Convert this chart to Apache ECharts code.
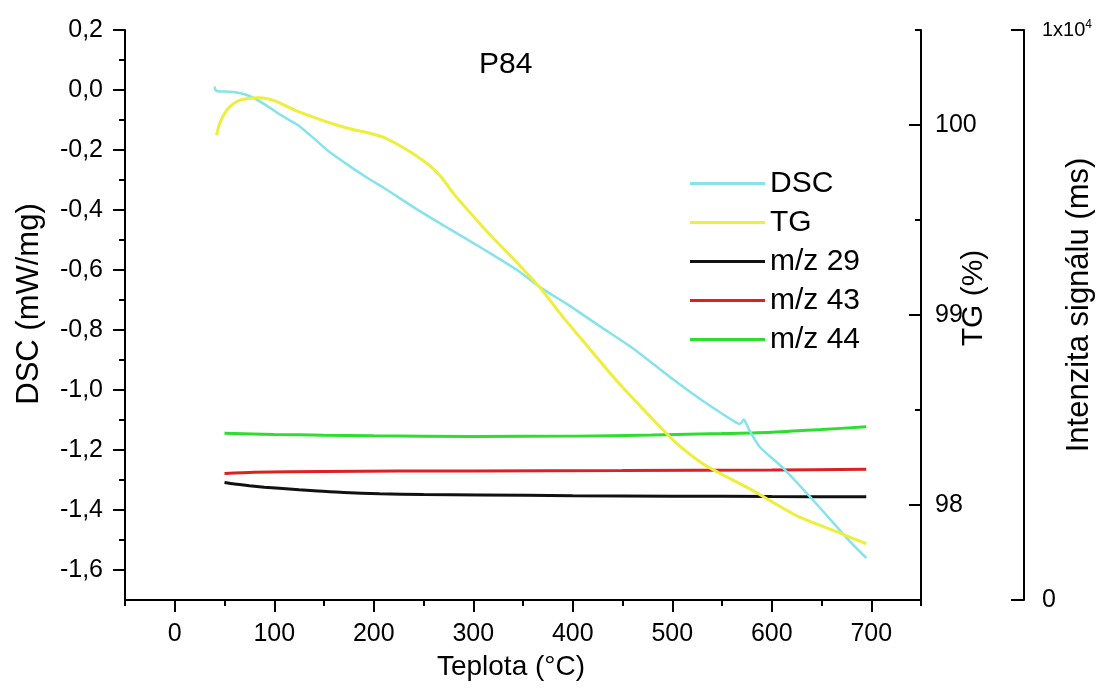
<!DOCTYPE html>
<html>
<head>
<meta charset="utf-8">
<script src="https://cdn.jsdelivr.net/npm/echarts@6/dist/echarts.min.js"></script>
<style>
html,body{margin:0;padding:0;background:#fff;}
#chart{width:1108px;height:696px;}
</style>
</head>
<body>
<div id="chart"></div>
<script>
// ---- data ----
const xMajor = [0, 100, 200, 300, 400, 500, 600, 700];
const xMinor = [-50, 50, 150, 250, 350, 450, 550, 650, 750];
const dscMajor = [0.2, 0, -0.2, -0.4, -0.6, -0.8, -1, -1.2, -1.4, -1.6];
const dscMinor = [0.1, -0.1, -0.3, -0.5, -0.7, -0.9, -1.1, -1.3, -1.5];
const tgMajor = [98, 99, 100];
const tgMinor = [97.5, 98.5, 99.5, 100.5];
const intTicks = [0, 10000];

// DSC (mW/mg) vs temperature
const dscT = [40, 41, 43, 55, 65, 75, 85, 95, 105, 115, 125, 140, 155, 175, 195, 210, 243, 276, 310, 344, 367, 394, 427, 460, 497, 528, 560, 568, 572, 574, 578, 588, 611, 645, 678, 695];
const dscV = [0.012, 0.0, -0.004, -0.006, -0.01, -0.02, -0.037, -0.058, -0.08, -0.1, -0.12, -0.162, -0.205, -0.252, -0.296, -0.326, -0.397, -0.463, -0.53, -0.6, -0.657, -0.713, -0.787, -0.86, -0.955, -1.03, -1.1, -1.113, -1.098, -1.11, -1.137, -1.19, -1.259, -1.38, -1.503, -1.56];

// TG (%) vs temperature
const tgT = [42, 45, 50, 55, 63, 72, 85, 100, 120, 140, 160, 180, 195, 210, 225, 240, 256, 268, 280, 300, 320, 345, 368, 390, 410, 444, 477, 505, 530, 545, 578, 600, 628, 662, 695];
const tgV = [99.945, 100.006, 100.06, 100.094, 100.125, 100.138, 100.143, 100.128, 100.08, 100.04, 100.004, 99.975, 99.958, 99.935, 99.895, 99.848, 99.787, 99.725, 99.64, 99.52, 99.405, 99.27, 99.138, 98.99, 98.866, 98.655, 98.47, 98.322, 98.22, 98.175, 98.085, 98.018, 97.936, 97.866, 97.796];

// MS intensities
const mz29T = [50, 60, 75, 90, 105, 125, 140, 170, 206, 250, 306, 400, 500, 600, 695];
const mz29V = [2060, 2035, 2005, 1980, 1960, 1935, 1918, 1885, 1862, 1850, 1842, 1830, 1822, 1815, 1812];
const mz43T = [50, 80, 150, 300, 450, 600, 695];
const mz43V = [2220, 2240, 2255, 2265, 2270, 2282, 2295];
const mz44T = [50, 100, 150, 200, 300, 400, 480, 550, 600, 650, 695];
const mz44V = [2925, 2905, 2890, 2880, 2870, 2875, 2895, 2920, 2945, 2990, 3040];

const zip = (a, b) => a.map((v, i) => [v, b[i]]);
const FF = '"Liberation Sans", Arial, sans-serif';
const comma = v => v.toFixed(1).replace('.', ',');

const chart = echarts.init(document.getElementById('chart'), null, {renderer: 'canvas'});

const axLine = {show: true, onZero: false, lineStyle: {color: '#000', width: 2}};
const noLine = {show: false, onZero: false};
const tickStyle = {color: '#000', width: 2};

const option = {
  animation: false,
  backgroundColor: '#fff',
  title: {
    text: 'P84', left: 474, top: 45,
    textStyle: {fontFamily: FF, fontSize: 30, fontWeight: 'normal', color: '#000'}
  },
  legend: {
    orient: 'vertical', left: 685, top: 163,
    icon: 'rect', itemWidth: 75, itemHeight: 3, itemGap: 8,
    textStyle: {fontFamily: FF, fontSize: 30, lineHeight: 31, color: '#000'},
    data: ['DSC', 'TG', 'm/z 29', 'm/z 43', 'm/z 44']
  },
  grid: {left: 125, right: 187, top: 30, bottom: 96, containLabel: false, outerBoundsMode: 'none'},
  xAxis: [
    {
      type: 'value', min: -50, max: 750, position: 'bottom',
      axisLine: axLine,
      axisTick: {show: true, length: 12, lineStyle: tickStyle, customValues: xMajor},
      axisLabel: {customValues: xMajor, fontFamily: FF, fontSize: 25, color: '#000', margin: 22},
      splitLine: {show: false},
      name: 'Teplota (°C)', nameLocation: 'middle', nameGap: 53, nameMoveOverlap: false,
      nameTextStyle: {fontFamily: FF, fontSize: 28, color: '#000', padding: [0, 24, 0, 0]}
    },
    {
      type: 'value', min: -50, max: 750, position: 'bottom',
      axisLine: noLine,
      axisTick: {show: true, length: 6, lineStyle: tickStyle, customValues: xMinor},
      axisLabel: {show: false}, splitLine: {show: false}
    }
  ],
  yAxis: [
    {
      type: 'value', min: -1.7, max: 0.2, position: 'left',
      axisLine: axLine,
      axisTick: {show: true, length: 12, lineStyle: tickStyle, customValues: dscMajor},
      axisLabel: {customValues: dscMajor, formatter: comma, fontFamily: FF, fontSize: 25, color: '#000', margin: 22},
      splitLine: {show: false},
      name: 'DSC (mW/mg)', nameLocation: 'middle', nameRotate: 90, nameGap: 80, nameMoveOverlap: false,
      nameTextStyle: {fontFamily: FF, fontSize: 31, color: '#000', padding: [0, 0, 0, 22]}
    },
    {
      type: 'value', min: -1.7, max: 0.2, position: 'left',
      axisLine: noLine,
      axisTick: {show: true, length: 6, lineStyle: tickStyle, customValues: dscMinor},
      axisLabel: {show: false}, splitLine: {show: false}
    },
    {
      type: 'value', min: 97.5, max: 100.5, position: 'right',
      axisLine: axLine,
      axisTick: {show: true, inside: true, length: 12, lineStyle: tickStyle, customValues: tgMajor},
      axisLabel: {customValues: tgMajor, fontFamily: FF, fontSize: 25, color: '#000', margin: 14},
      splitLine: {show: false},
      name: 'TG (%)', nameLocation: 'middle', nameRotate: 90, nameGap: 38, nameMoveOverlap: false,
      nameTextStyle: {fontFamily: FF, fontSize: 30, color: '#000', padding: [0, 0, 0, 34]}
    },
    {
      type: 'value', min: 97.5, max: 100.5, position: 'right',
      axisLine: noLine,
      axisTick: {show: true, inside: true, length: 6, lineStyle: tickStyle, customValues: tgMinor},
      axisLabel: {show: false}, splitLine: {show: false}
    },
    {
      type: 'value', min: 0, max: 10000, position: 'right', offset: 103,
      axisLine: axLine,
      axisTick: {show: true, inside: true, length: 13, lineStyle: tickStyle, customValues: intTicks},
      axisLabel: {
        customValues: intTicks, margin: 18, color: '#000',
        formatter: v => v === 0 ? '{n|0}' : '{s|1x10}{sup|4}',
        rich: {
          n: {fontFamily: FF, fontSize: 25, color: '#000'},
          s: {fontFamily: FF, fontSize: 20, color: '#000'},
          sup: {fontFamily: FF, fontSize: 12, color: '#000', verticalAlign: 'top', padding: [0, 0, 10, 0]}
        }
      },
      splitLine: {show: false},
      name: 'Intenzita signálu (ms)', nameLocation: 'middle', nameRotate: 90, nameGap: 40, nameMoveOverlap: false,
      nameTextStyle: {fontFamily: FF, fontSize: 31, color: '#000', padding: [0, 0, 0, 20]}
    }
  ],
  series: [
    {name: 'm/z 29', type: 'line', xAxisIndex: 0, yAxisIndex: 4, data: zip(mz29T, mz29V), showSymbol: false, smooth: 0.3,
     lineStyle: {color: '#111111', width: 3}, itemStyle: {color: '#111111'}},
    {name: 'm/z 43', type: 'line', xAxisIndex: 0, yAxisIndex: 4, data: zip(mz43T, mz43V), showSymbol: false, smooth: 0.3,
     lineStyle: {color: '#DD2020', width: 3}, itemStyle: {color: '#DD2020'}},
    {name: 'm/z 44', type: 'line', xAxisIndex: 0, yAxisIndex: 4, data: zip(mz44T, mz44V), showSymbol: false, smooth: 0.3,
     lineStyle: {color: '#2EDD2E', width: 3}, itemStyle: {color: '#2EDD2E'}},
    {name: 'DSC', type: 'line', xAxisIndex: 0, yAxisIndex: 0, data: zip(dscT, dscV), showSymbol: false, smooth: 0.25,
     lineStyle: {color: '#86E3EA', width: 2.5}, itemStyle: {color: '#86E3EA'}},
    {name: 'TG', type: 'line', xAxisIndex: 0, yAxisIndex: 2, data: zip(tgT, tgV), showSymbol: false, smooth: 0.25,
     lineStyle: {color: '#EEEE3C', width: 3}, itemStyle: {color: '#EEEE3C'}}
  ]
};
chart.setOption(option);
</script>
</body>
</html>
